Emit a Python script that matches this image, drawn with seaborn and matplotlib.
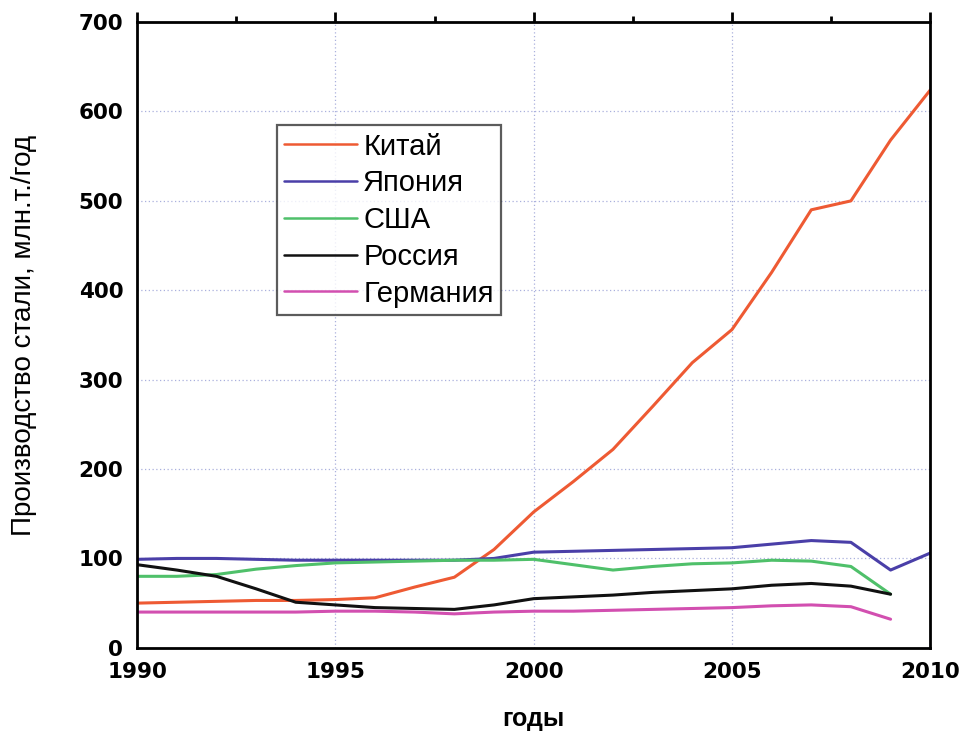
import matplotlib
matplotlib.use("Agg")
import matplotlib.pyplot as plt
import seaborn as sns
import pandas as pd
from matplotlib.ticker import MultipleLocator

years = list(range(1990, 2011))
china = [50, 51, 52, 53, 53, 54, 56, 68, 79, 110, 152, 186, 222, 270, 319, 356, 420, 490, 500, 568, 624]
japan_years = list(range(1990, 2011))
japan = [99, 100, 100, 99, 98, 98, 98, 98, 98, 100, 107, 108, 109, 110, 111, 112, 116, 120, 118, 87, 106]
usa_years = list(range(1990, 2010))
usa = [80, 80, 82, 88, 92, 95, 96, 97, 98, 98, 99, 93, 87, 91, 94, 95, 98, 97, 91, 60]
russia_years = list(range(1990, 2010))
russia = [93, 87, 80, 66, 51, 48, 45, 44, 43, 48, 55, 57, 59, 62, 64, 66, 70, 72, 69, 60]
germany_years = list(range(1990, 2010))
germany = [40, 40, 40, 40, 40, 41, 41, 40, 38, 40, 41, 41, 42, 43, 44, 45, 47, 48, 46, 32]

labels = ["Китай", "Япония", "США", "Россия", "Германия"]
colors = ["#ee5a33", "#4a3fa8", "#4fc06a", "#111111", "#d24fb0"]

frames = []
for name, xs, ys in zip(labels,
                        [years, japan_years, usa_years, russia_years, germany_years],
                        [china, japan, usa, russia, germany]):
    frames.append(pd.DataFrame({"year": xs, "value": ys, "country": name}))
df = pd.concat(frames, ignore_index=True)

sns.set_style("white")
plt.rcParams['font.family'] = ['Liberation Sans', 'DejaVu Sans']
plt.rcParams['text.color'] = 'black'
plt.rcParams['axes.labelcolor'] = 'black'
plt.rcParams['xtick.color'] = 'black'
plt.rcParams['ytick.color'] = 'black'

fig = plt.figure(figsize=(9.59, 7.37), dpi=100)
ax = fig.add_axes([0.143, 0.121, 0.827, 0.849])

sns.lineplot(data=df, x="year", y="value", hue="country", hue_order=labels,
             palette=dict(zip(labels, colors)), linewidth=2.2, ax=ax, legend=False)

ax.set_xlim(1990, 2010)
ax.set_ylim(0, 700)
ax.xaxis.set_major_locator(MultipleLocator(5))
ax.xaxis.set_minor_locator(MultipleLocator(2.5))
ax.yaxis.set_major_locator(MultipleLocator(100))
ax.yaxis.set_minor_locator(MultipleLocator(50))
ax.grid(True, which="major", color="#aab0dd", linestyle=(0, (1, 2)), linewidth=0.9)
ax.set_axisbelow(True)

for s in ax.spines.values():
    s.set_visible(True)
    s.set_color("black")
    s.set_linewidth(2)

ax.tick_params(which="major", direction="out", length=7, width=2, top=True, right=False,
               color="black", labelcolor="black", pad=3)
ax.tick_params(which="minor", direction="out", length=4, width=2, top=True, right=False, color="black")
ax.tick_params(axis="both", which="both", labeltop=False, labelright=False)
for lab in ax.get_xticklabels() + ax.get_yticklabels():
    lab.set_fontweight("bold")
    lab.set_family(["DejaVu Sans"])
    lab.set_fontsize(15.5)
    lab.set_color("black")

ax.set_xlabel("годы", fontsize=18, fontweight="bold", labelpad=18, color="black")
ax.set_ylabel("Производство стали, млн.т./год", fontsize=20, labelpad=30, color="black")

handles = [plt.Line2D([], [], color=c, linewidth=1.8) for c in colors]
leg = ax.legend(handles, labels, loc="upper left", bbox_to_anchor=(0.1765, 0.835),
                fontsize=21, frameon=True, fancybox=False, handlelength=2.5,
                handletextpad=0.2, labelspacing=0.3, borderpad=0.25, borderaxespad=0)
leg.get_frame().set_edgecolor("#333333")
leg.get_frame().set_linewidth(1.6)
for t in leg.get_texts():
    t.set_color("black")

fig.savefig("out.png", dpi=100)
